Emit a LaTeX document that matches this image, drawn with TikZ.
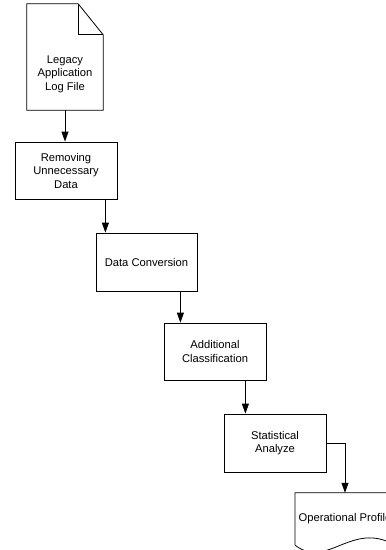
\documentclass[tikz,border=0pt]{standalone}
\usepackage{fontspec}
\setmainfont{Liberation Sans}
\usetikzlibrary{arrows.meta}
\tikzset{
  stepbox/.style={draw,line width=0.8pt,minimum width=102pt,minimum height=57pt,align=center},
  flow/.style={line width=0.8pt,-{Triangle[length=10pt,width=7pt]}}
}
\begin{document}
\begin{tikzpicture}[x=1pt,y=-1pt,font=\fontsize{11.2}{13.5}\selectfont]
  \useasboundingbox (0,0) rectangle (386,550);
  % log file (page with folded corner)
  \node[minimum width=76pt,minimum height=106pt] (log) at (65,57) {};
  \draw[line width=0.8pt] (log.south west) -- (log.north west) -- ([xshift=-25pt]log.north east)
    -- ([yshift=-31pt]log.north east) -- (log.south east) -- cycle;
  \draw[line width=0.8pt] ([xshift=-25pt]log.north east) -- ([xshift=-25pt,yshift=-31pt]log.north east)
    -- ([yshift=-31pt]log.north east);
  \node[align=center] (logtext) at (65,74) {Legacy\\Application\\Log File};
  % processing steps
  \node[stepbox] (rem) at (66,170.5) {Removing\\Unnecessary\\Data};
  \node[stepbox,minimum width=101pt,minimum height=58pt] (conv) at (146.5,262) {Data Conversion};
  \node[stepbox] (cls) at (215,351.5) {Additional\\Classification};
  \node[stepbox,minimum height=58pt] (stat) at (275,443) {Statistical\\Analyze};
  % output document
  \node[minimum width=98pt,minimum height=52pt] (prof) at (345,519) {Operational Profile};
  \draw[line width=0.8pt] (prof.south west) -- (prof.north west) -- (prof.north east) -- (prof.south east)
    .. controls (352,520) and (327,570) .. (prof.south west);
  % connectors
  \draw[flow] (log.south) -- (log.south |- rem.north);
  \draw[flow] ([xshift=-12pt]rem.south east) -- ([xshift=-12pt]rem.south east |- conv.north);
  \draw[flow] ([xshift=-17pt]conv.south east) -- ([xshift=-17pt]conv.south east |- cls.north);
  \draw[flow] ([xshift=-21pt]cls.south east) -- ([xshift=-21pt]cls.south east |- stat.north);
  \draw[flow] (stat.east) -| (prof.north);
\end{tikzpicture}
\end{document}
